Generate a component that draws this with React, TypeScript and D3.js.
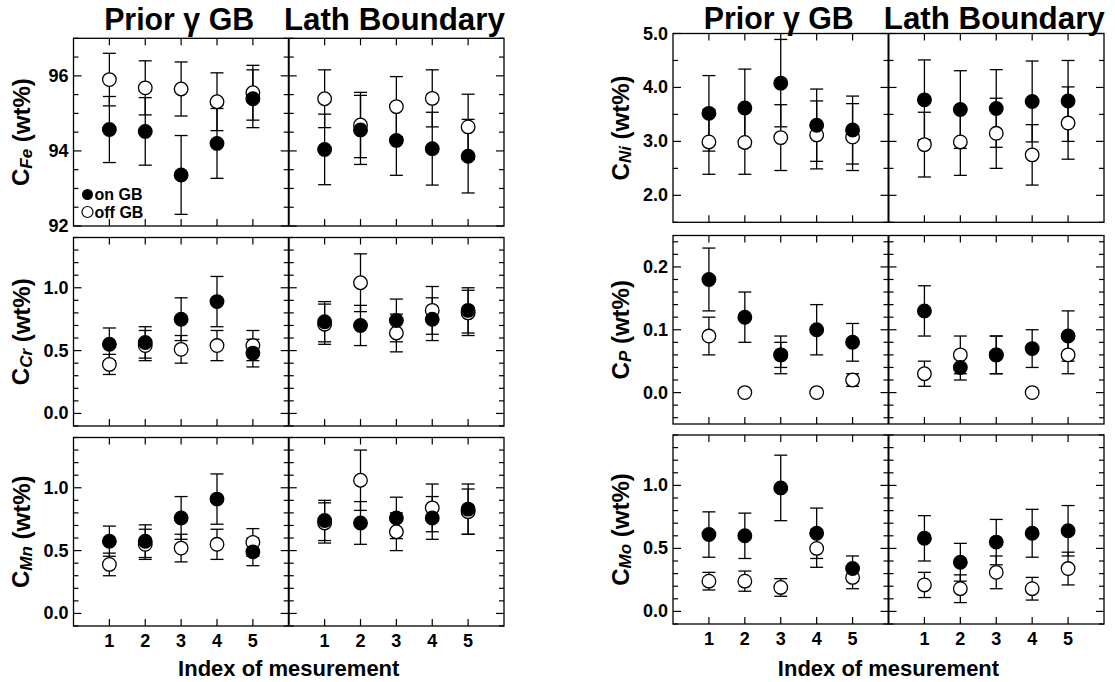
import React from 'react';
import * as d3 from 'd3';

// measurement index and group names
const index = [1, 2, 3, 4, 5];
const boundaries = ['Prior γ GB', 'Lath Boundary'];
const legendLabels = ['on GB', 'off GB'];
const xTitle = 'Index of mesurement';

// each array: Prior γ GB 1-5, then Lath Boundary 1-5 (wt%)
const feOn = [94.57, 94.52, 93.36, 94.2, 95.39, 94.04, 94.56, 94.28, 94.06, 93.86];
const feOnErr = [0.88, 0.9, 1.05, 0.93, 0.77, 0.94, 0.92, 0.93, 0.97, 0.98];
const feOff = [95.9, 95.68, 95.65, 95.31, 95.55, 95.39, 94.69, 95.18, 95.4, 94.64];
const feOffErr = [0.7, 0.72, 0.72, 0.77, 0.73, 0.77, 0.87, 0.8, 0.76, 0.87];

const crOn = [0.55, 0.565, 0.75, 0.89, 0.48, 0.73, 0.7, 0.74, 0.75, 0.82];
const crOnErr = [0.13, 0.125, 0.17, 0.2, 0.11, 0.16, 0.16, 0.17, 0.17, 0.18];
const crOff = [0.39, 0.54, 0.51, 0.54, 0.54, 0.71, 1.04, 0.64, 0.82, 0.8];
const crOffErr = [0.08, 0.12, 0.11, 0.12, 0.12, 0.16, 0.23, 0.15, 0.19, 0.18];

const mnOn = [0.575, 0.575, 0.76, 0.91, 0.49, 0.74, 0.72, 0.76, 0.76, 0.83];
const mnOnErr = [0.12, 0.13, 0.17, 0.2, 0.11, 0.16, 0.17, 0.165, 0.17, 0.2];
const mnOff = [0.39, 0.55, 0.52, 0.55, 0.565, 0.72, 1.06, 0.65, 0.84, 0.81];
const mnOffErr = [0.09, 0.12, 0.11, 0.12, 0.11, 0.16, 0.24, 0.15, 0.19, 0.18];

const niOn = [3.52, 3.62, 4.08, 3.3, 3.21, 3.77, 3.59, 3.61, 3.74, 3.75];
const niOnErr = [0.7, 0.72, 0.81, 0.67, 0.63, 0.74, 0.72, 0.72, 0.75, 0.75];
const niOff = [2.99, 2.98, 3.07, 3.12, 3.08, 2.94, 2.99, 3.15, 2.75, 3.34];
const niOffErr = [0.6, 0.59, 0.61, 0.63, 0.62, 0.6, 0.62, 0.65, 0.56, 0.67];

const pOn = [0.18, 0.12, 0.06, 0.1, 0.08, 0.13, 0.04, 0.06, 0.07, 0.09];
const pOnErr = [0.05, 0.04, 0.03, 0.04, 0.03, 0.04, 0.02, 0.03, 0.03, 0.04];
const pOff = [0.09, 0.0, 0.06, 0.0, 0.02, 0.03, 0.06, 0.06, 0.0, 0.06];
const pOffErr = [0.03, 0, 0.02, 0, 0.01, 0.02, 0.03, 0.03, 0, 0.03];

const moOn = [0.61, 0.6, 0.98, 0.62, 0.34, 0.58, 0.39, 0.55, 0.62, 0.64];
const moOnErr = [0.18, 0.18, 0.26, 0.2, 0.1, 0.18, 0.15, 0.18, 0.19, 0.2];
const moOff = [0.24, 0.24, 0.19, 0.5, 0.27, 0.21, 0.18, 0.31, 0.18, 0.34];
const moOffErr = [0.07, 0.08, 0.07, 0.15, 0.09, 0.1, 0.11, 0.13, 0.09, 0.13];

// y axes
const feTicks = ['92', '94', '96'];
const niTicks = ['2.0', '3.0', '4.0', '5.0'];
const smallTicks = ['0.0', '0.5', '1.0'];
const pTicks = ['0.0', '0.1', '0.2'];

const elements = {
  Fe: { sym: 'Fe', on: feOn, onErr: feOnErr, off: feOff, offErr: feOffErr, domain: [92, 97], ticks: feTicks, minor: 0.5 },
  Cr: { sym: 'Cr', on: crOn, onErr: crOnErr, off: crOff, offErr: crOffErr, domain: [-0.1, 1.4], ticks: smallTicks, minor: 0.1 },
  Mn: { sym: 'Mn', on: mnOn, onErr: mnOnErr, off: mnOff, offErr: mnOffErr, domain: [-0.1, 1.4], ticks: smallTicks, minor: 0.1 },
  Ni: { sym: 'Ni', on: niOn, onErr: niOnErr, off: niOff, offErr: niOffErr, domain: [1.5, 5.0], ticks: niTicks, minor: 0.5 },
  P: { sym: 'P', on: pOn, onErr: pOnErr, off: pOff, offErr: pOffErr, domain: [-0.05, 0.25], ticks: pTicks, minor: 0.02 },
  Mo: { sym: 'Mo', on: moOn, onErr: moOnErr, off: moOff, offErr: moOffErr, domain: [-0.1, 1.4], ticks: smallTicks, minor: 0.1 },
};

const FONT = "'Liberation Sans', Arial, Helvetica, sans-serif";
const INK = '#000';

function Panel({ el, x0, x1, y0, y1, xLabels, legend }: any) {
  const xm = (x0 + x1) / 2;
  const xs = [
    d3.scaleLinear().domain([0, 6]).range([x0, xm]),
    d3.scaleLinear().domain([0, 6]).range([xm, x1]),
  ];
  const y = d3.scaleLinear().domain(el.domain).range([y1, y0]);
  const step = el.minor;
  const minor = d3
    .range(Math.ceil(el.domain[0] / step - 1e-6), Math.floor(el.domain[1] / step + 1e-6) + 1)
    .map((k: number) => k * step);
  const major = el.ticks.map((t: string) => +t);

  const yTick = (v: number, len: number, key: string) => (
    <g key={key}>
      <line x1={x0} x2={x0 + len} y1={y(v)} y2={y(v)} />
      <line x1={x1} x2={x1 - len} y1={y(v)} y2={y(v)} />
      <line x1={xm - len} x2={xm + len} y1={y(v)} y2={y(v)} />
    </g>
  );

  const bars = (vals: number[], errs: number[], key: string) =>
    vals.map((v, k) => {
      const e = errs[k];
      if (!e) return null;
      const cx = xs[Math.floor(k / 5)](index[k % 5]);
      return (
        <g key={key + k}>
          <line x1={cx} x2={cx} y1={y(v - e)} y2={y(v + e)} />
          <line x1={cx - 6.5} x2={cx + 6.5} y1={y(v - e)} y2={y(v - e)} />
          <line x1={cx - 6.5} x2={cx + 6.5} y1={y(v + e)} y2={y(v + e)} />
        </g>
      );
    });

  const dots = (vals: number[], fill: string, key: string) =>
    vals.map((v, k) => (
      <circle
        key={key + k}
        cx={xs[Math.floor(k / 5)](index[k % 5])}
        cy={y(v)}
        r={6.8}
        fill={fill}
        stroke={INK}
        strokeWidth={1.3}
      />
    ));

  return (
    <g>
      <g stroke={INK} strokeWidth={1.2}>
        {minor.filter((v: number) => !major.some((m: number) => Math.abs(m - v) < 1e-6)).map((v: number, i: number) => yTick(v, 5, 'mi' + i))}
        {major.map((v: number, i: number) => yTick(v, 8, 'ma' + i))}
        {xs.map((sx, s) =>
          index.map((i) => (
            <g key={'xt' + s + i}>
              <line x1={sx(i)} x2={sx(i)} y1={y0} y2={y0 + 7} />
              <line x1={sx(i)} x2={sx(i)} y1={y1} y2={y1 - 7} />
            </g>
          ))
        )}
      </g>
      <rect x={x0} y={y0} width={x1 - x0} height={y1 - y0} fill="none" stroke={INK} strokeWidth={1.3} />
      <line x1={xm} x2={xm} y1={y0} y2={y1} stroke={INK} strokeWidth={2} />
      <g fontFamily={FONT} fontWeight="bold" fontSize={18} fill={INK} textAnchor="end">
        {el.ticks.map((t: string) => (
          <text key={t} x={x0 - 5} y={y(+t)} dominantBaseline="central">{t}</text>
        ))}
      </g>
      <text
        transform={`translate(${x0 - 53},${(y0 + y1) / 2}) rotate(-90)`}
        textAnchor="middle"
        dominantBaseline="central"
        fontFamily={FONT}
        fontWeight="bold"
        fontSize={24}
        fill={INK}
      >
        C
        <tspan fontSize={17} fontStyle="italic" dy={5}>{el.sym}</tspan>
        <tspan dy={-5}> (wt%)</tspan>
      </text>
      <g stroke={INK} strokeWidth={1.3}>
        {bars(el.off, el.offErr, 'bo')}
        {bars(el.on, el.onErr, 'bf')}
      </g>
      {dots(el.off, '#fff', 'do')}
      {dots(el.on, INK, 'df')}
      {xLabels && (
        <g fontFamily={FONT} fontWeight="bold" fill={INK} textAnchor="middle">
          {xs.map((sx, s) =>
            index.map((i) => (
              <text key={'xl' + s + i} x={sx(i)} y={y1 + 15} dominantBaseline="central" fontSize={18}>{i}</text>
            ))
          )}
          <text x={xm} y={676} fontSize={22}>{xTitle}</text>
        </g>
      )}
      {legend && (
        <g fontFamily={FONT} fontWeight="bold" fontSize={16} fill={INK}>
          <circle cx={x0 + 14} cy={194.5} r={5.5} fill={INK} />
          <circle cx={x0 + 14} cy={212} r={5.5} fill="#fff" stroke={INK} strokeWidth={1.2} />
          <text x={x0 + 21} y={194.5} dominantBaseline="central">{legendLabels[0]}</text>
          <text x={x0 + 21} y={212} dominantBaseline="central">{legendLabels[1]}</text>
        </g>
      )}
    </g>
  );
}

function Titles({ x0, x1, base }: any) {
  const xm = (x0 + x1) / 2;
  const centers = [(x0 + xm) / 2 - 2, (xm + x1) / 2 - 2];
  const widths = [150, 221];
  return (
    <g fontFamily={FONT} fontWeight="bold" fontSize={31} fill={INK} textAnchor="middle">
      {boundaries.map((b, i) => (
        <text key={b} x={centers[i]} y={base} textLength={widths[i]} lengthAdjust="spacingAndGlyphs">{b}</text>
      ))}
    </g>
  );
}

export default function App() {
  const left = { x0: 73.5, x1: 504 };
  const right = { x0: 673, x1: 1104 };
  const leftRows = [[38.3, 226], [237.5, 426], [437.5, 626]];
  const rightRows = [[33.5, 222.3], [235.5, 424], [435, 624]];
  const leftEls = [elements.Fe, elements.Cr, elements.Mn];
  const rightEls = [elements.Ni, elements.P, elements.Mo];

  return (
    <svg
      width={1115}
      height={682}
      style={{ position: 'absolute', left: 0, top: 0, background: '#fff' }}
    >
      <Titles x0={left.x0} x1={left.x1} base={30} />
      <Titles x0={right.x0} x1={right.x1} base={28.5} />
      {leftEls.map((el, r) => (
        <Panel key={el.sym} el={el} x0={left.x0} x1={left.x1} y0={leftRows[r][0]} y1={leftRows[r][1]} xLabels={r === 2} legend={r === 0} />
      ))}
      {rightEls.map((el, r) => (
        <Panel key={el.sym} el={el} x0={right.x0} x1={right.x1} y0={rightRows[r][0]} y1={rightRows[r][1]} xLabels={r === 2} legend={false} />
      ))}
    </svg>
  );
}
